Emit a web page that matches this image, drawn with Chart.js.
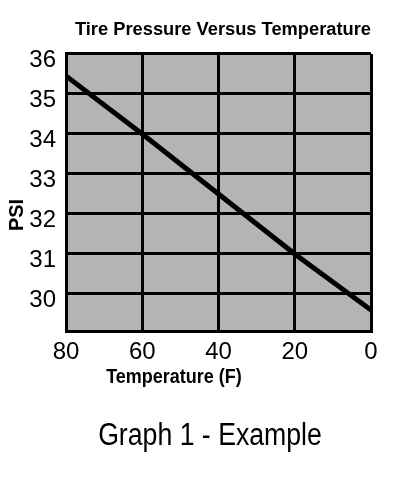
<!DOCTYPE html>
<html>
<head>
<meta charset="utf-8">
<script src="https://cdn.jsdelivr.net/npm/chart.js@4"></script>
<style>
  html, body { margin: 0; padding: 0; background: #fff; }
  #wrap { width: 394px; height: 487px; }
</style>
</head>
<body>
<div id="wrap"><canvas id="tireChart" width="394" height="487"></canvas></div>
<script>
// tire pressure chart

var temperatures = [80, 60, 40, 20, 0];
var pressures = [35.45, 34, 32.5, 31, 29.6];
var xTicks = [80, 60, 40, 20, 0];
var yTicks = [30, 31, 32, 33, 34, 35, 36];

var chartTitle = 'Tire Pressure Versus Temperature';
var xTitle = 'Temperature (F)';
var yTitle = 'PSI';
var caption = 'Graph 1 - Example';

var FONT = '"Liberation Sans Narrow", "Arial Narrow", "Liberation Sans", Arial, sans-serif';

var points = temperatures.map(function (t, i) {
    return { x: t, y: pressures[i] };
});

// squeeze text sideways a bit, the original uses a narrow face
function narrowText(ctx, text, x, y, squeeze) {
    ctx.save();
    ctx.translate(x, y);
    ctx.scale(squeeze, 1);
    ctx.fillText(text, 0, 0);
    ctx.restore();
}

// gray plot area + the extra labels that sit off-centre
var extras = {
    id: 'extras',
    beforeDraw: function (chart) {
        var a = chart.chartArea, ctx = chart.ctx;
        ctx.save();
        ctx.fillStyle = '#b4b4b4';
        ctx.fillRect(a.left, a.top, a.right - a.left, a.bottom - a.top);
        ctx.restore();
    },
    afterDraw: function (chart) {
        var a = chart.chartArea, ctx = chart.ctx;
        ctx.save();
        ctx.fillStyle = '#000';
        ctx.textAlign = 'center';
        ctx.textBaseline = 'middle';

        ctx.font = 'bold 20px ' + FONT;
        narrowText(ctx, xTitle, a.left + 108, a.bottom + 45, 0.9);

        ctx.save();
        ctx.translate(17, a.top + 161);
        ctx.rotate(-Math.PI / 2);
        ctx.fillText(yTitle, 0, 0);
        ctx.restore();

        ctx.font = '31px ' + FONT;
        narrowText(ctx, caption, 210, 436, 0.86);
        ctx.restore();
    }
};

var ctx = document.getElementById('tireChart').getContext('2d');

var tireChart = new Chart(ctx, {
    type: 'line',
    data: {
        datasets: [{
            data: points,
            borderColor: '#000',
            borderWidth: 5,
            pointRadius: 0,
            fill: false,
            tension: 0
        }]
    },
    options: {
        responsive: false,
        animation: false,
        layout: {
            padding: { left: 0, right: 23, top: 0, bottom: 0 }
        },
        plugins: {
            legend: { display: false },
            tooltip: { enabled: false },
            title: {
                display: true,
                text: chartTitle,
                align: 'end',
                color: '#000',
                font: { family: FONT, size: 18.3, weight: 'bold' },
                padding: { top: 19, bottom: 13 }
            }
        },
        scales: {
            x: {
                type: 'linear',
                reverse: true,
                min: 0,
                max: 80,
                afterBuildTicks: function (scale) {
                    scale.ticks = xTicks.map(function (v) { return { value: v }; });
                },
                afterFit: function (scale) { scale.height = 155; },
                grid: { color: '#000', lineWidth: 3, drawTicks: false },
                border: { color: '#000', width: 3 },
                ticks: {
                    color: '#000',
                    padding: 6,
                    maxRotation: 0,
                    font: { family: FONT, size: 24 }
                }
            },
            y: {
                type: 'linear',
                min: 29.05,
                max: 36,
                afterBuildTicks: function (scale) {
                    scale.ticks = yTicks.map(function (v) { return { value: v }; });
                },
                afterFit: function (scale) { scale.width = 66; },
                grid: { color: '#000', lineWidth: 3, drawTicks: false },
                border: { color: '#000', width: 3 },
                ticks: {
                    color: '#000',
                    padding: 10,
                    labelOffset: 6,
                    font: { family: FONT, size: 24 }
                }
            }
        }
    },
    plugins: [extras]
});
</script>
</body>
</html>
